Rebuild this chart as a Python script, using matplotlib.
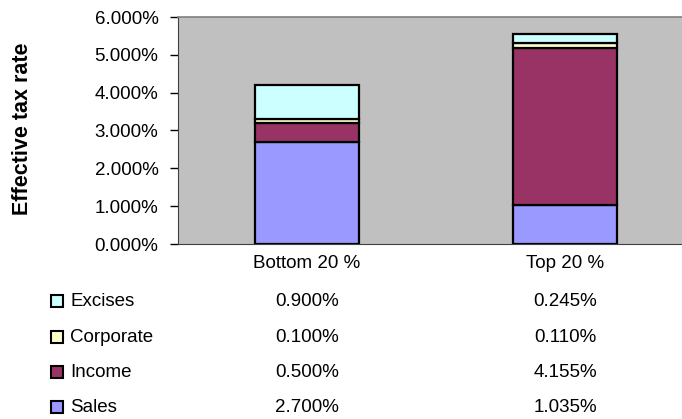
import matplotlib
matplotlib.use("Agg")
import matplotlib.pyplot as plt
from matplotlib.patches import Rectangle
from matplotlib.transforms import blended_transform_factory
import numpy as np

categories = ["Bottom 20 %", "Top 20 %"]
series_names = ["Sales", "Income", "Corporate", "Excises"]
sales = [2.700, 1.035]
income = [0.500, 4.155]
corporate = [0.100, 0.110]
excises = [0.900, 0.245]
colors = ["#9999FF", "#993366", "#FFFFCC", "#CCFFFF"]
yticks = [0, 1, 2, 3, 4, 5, 6]

plt.rcParams['font.family'] = ['Liberation Sans', 'DejaVu Sans']
W, H = 682, 419
fig = plt.figure(figsize=(W / 100, H / 100), dpi=100)
FS = 13.5

def fx(px):
    return px / W

def fy(py):
    return 1 - py / H

left, top, bottom, right = 178, 17, 244, 694
ax = fig.add_axes([fx(left), fy(bottom), (right - left) / W, (bottom - top) / H])
ax.set_facecolor("#C0C0C0")

x = np.arange(len(categories))
values = [sales, income, corporate, excises]
base = np.zeros(len(categories))
for name, vals, c in zip(series_names, values, colors):
    ax.bar(x, vals, bottom=base, width=0.4, color=c, edgecolor="black", linewidth=1.6, zorder=3)
    base = base + np.array(vals)

ax.set_xlim(-0.5, 1.5)
ax.set_ylim(0, 6)
ax.set_yticks(yticks)
ax.set_yticklabels([f"{v:.3f}%" for v in yticks], fontsize=FS)
ax.tick_params(axis="y", direction="out", length=6, width=1, pad=8, colors="black")
ax.set_xticks([])
ax.spines["right"].set_visible(False)
ax.spines["top"].set_color("#808080")
ax.spines["top"].set_linewidth(1.2)
ax.spines["left"].set_color("#404040")
ax.spines["bottom"].set_color("#404040")

fig.text(fx(23), fy(129), "Effective tax rate", rotation=90, ha="center", va="center",
         fontsize=15.5, fontweight="bold")

tr = blended_transform_factory(ax.transData, fig.transFigure)
for i, cat in enumerate(categories):
    ax.text(x[i], fy(263), cat, transform=tr, ha="center", va="center", fontsize=FS, clip_on=False)

row_names = ["Excises", "Corporate", "Income", "Sales"]
row_vals = [excises, corporate, income, sales]
row_cols = ["#CCFFFF", "#FFFFCC", "#993366", "#9999FF"]
row_y = [301, 337, 372, 407]
for name, vals, c, yy in zip(row_names, row_vals, row_cols, row_y):
    fig.patches.append(Rectangle((fx(51), fy(yy + 6)), 12 / W, 12 / H, transform=fig.transFigure,
                                 facecolor=c, edgecolor="black", linewidth=1.5))
    fig.text(fx(70), fy(yy), name, ha="left", va="center", fontsize=FS)
    for i in range(len(categories)):
        ax.text(x[i], fy(yy), f"{vals[i]:.3f}%", transform=tr, ha="center", va="center",
                fontsize=FS, clip_on=False)

fig.savefig("out.png", dpi=100)
